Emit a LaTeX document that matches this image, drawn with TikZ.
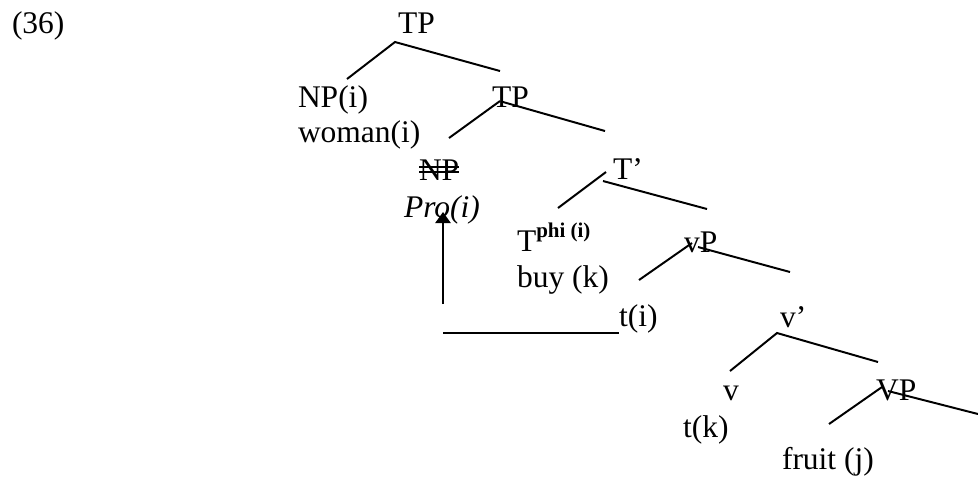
\documentclass[tikz,border=0pt]{standalone}
\usepackage{fontspec}
\setmainfont{Liberation Serif}
\usetikzlibrary{arrows.meta}
\begin{document}
\begin{tikzpicture}[x=0.381pt,y=-0.381pt,
  lbl/.style={anchor=base west,inner sep=0pt,outer sep=0pt,font=\fontsize{12}{14}\selectfont},
  branch/.style={line width=0.75pt},
  strike/.style={line width=0.55pt}]
\useasboundingbox (0,0) rectangle (978,480);
% labels
\node[lbl] (ex) at (12,33) {(36)};
\node[lbl] (tp1) at (398,33) {TP};
\node[lbl] (np1) at (298,107) {NP(i)};
\node[lbl] (woman) at (298,142) {woman(i)};
\node[lbl] (tp2) at (492,107) {TP};
\node[lbl] (npx) at (419,180) {NP};
\node[lbl] (pro) at (404,217) {\itshape Pro(i)};
\node[lbl] (tbar) at (613,179) {T’};
\node[lbl] (tphi) at (517,251) {T\raisebox{5.3pt}{\fontsize{8}{8}\selectfont\bfseries phi (i)}};
\node[lbl] (buy) at (517,287) {buy (k)};
\node[lbl] (ti) at (619,326) {t(i)};
\node[lbl] (vp) at (684,252) {vP};
\node[lbl] (vbar) at (780,327) {v’};
\node[lbl] (v) at (723,400) {v};
\node[lbl] (tk) at (683,437) {t(k)};
\node[lbl] (VP) at (876,400) {VP};
\node[lbl] (fruit) at (782,469) {fruit (j)};
% strike-through on NP
\draw[strike] ([yshift=4.9pt]npx.base west) -- ([yshift=4.9pt]npx.base east);
\draw[strike] ([yshift=3.0pt]npx.base west) -- ([yshift=3.0pt]npx.base east);
% branch end points
\coordinate (a1) at (395,42);
\coordinate (a1l) at (347,79);
\coordinate (a1r) at (500,71);
\coordinate (a2) at (500,101);
\coordinate (a2l) at (449,138);
\coordinate (a2s) at (503,102);
\coordinate (a2r) at (605,131);
\coordinate (a3) at (606,172);
\coordinate (a3l) at (558,208);
\coordinate (a3s) at (603,181);
\coordinate (a3r) at (707,209);
\coordinate (a4) at (692,243);
\coordinate (a4l) at (639,280);
\coordinate (a4s) at (698,247);
\coordinate (a4r) at (790,272);
\coordinate (a5) at (777,333);
\coordinate (a5l) at (730,371);
\coordinate (a5r) at (878,362);
\coordinate (a6) at (882,387);
\coordinate (a6l) at (829,424);
\coordinate (a6s) at (888,391);
\coordinate (a6r) at (978,414);
\draw[branch] (a1l) -- (a1) -- (a1r);
\draw[branch] (a2l) -- (a2);
\draw[branch] (a2s) -- (a2r);
\draw[branch] (a3l) -- (a3);
\draw[branch] (a3s) -- (a3r);
\draw[branch] (a4l) -- (a4);
\draw[branch] (a4s) -- (a4r);
\draw[branch] (a5l) -- (a5) -- (a5r);
\draw[branch] (a6l) -- (a6);
\draw[branch] (a6s) -- (a6r);
% movement arrow
\coordinate (hl) at (443,333);
\coordinate (vb) at (443,304);
\coordinate (tip) at (443,212);
\draw[branch] (hl) -- (ti.west |- hl);
\draw[branch,-{Triangle[width=5.8pt,length=4.2pt]}] (vb) -- (tip);
\end{tikzpicture}
\end{document}
